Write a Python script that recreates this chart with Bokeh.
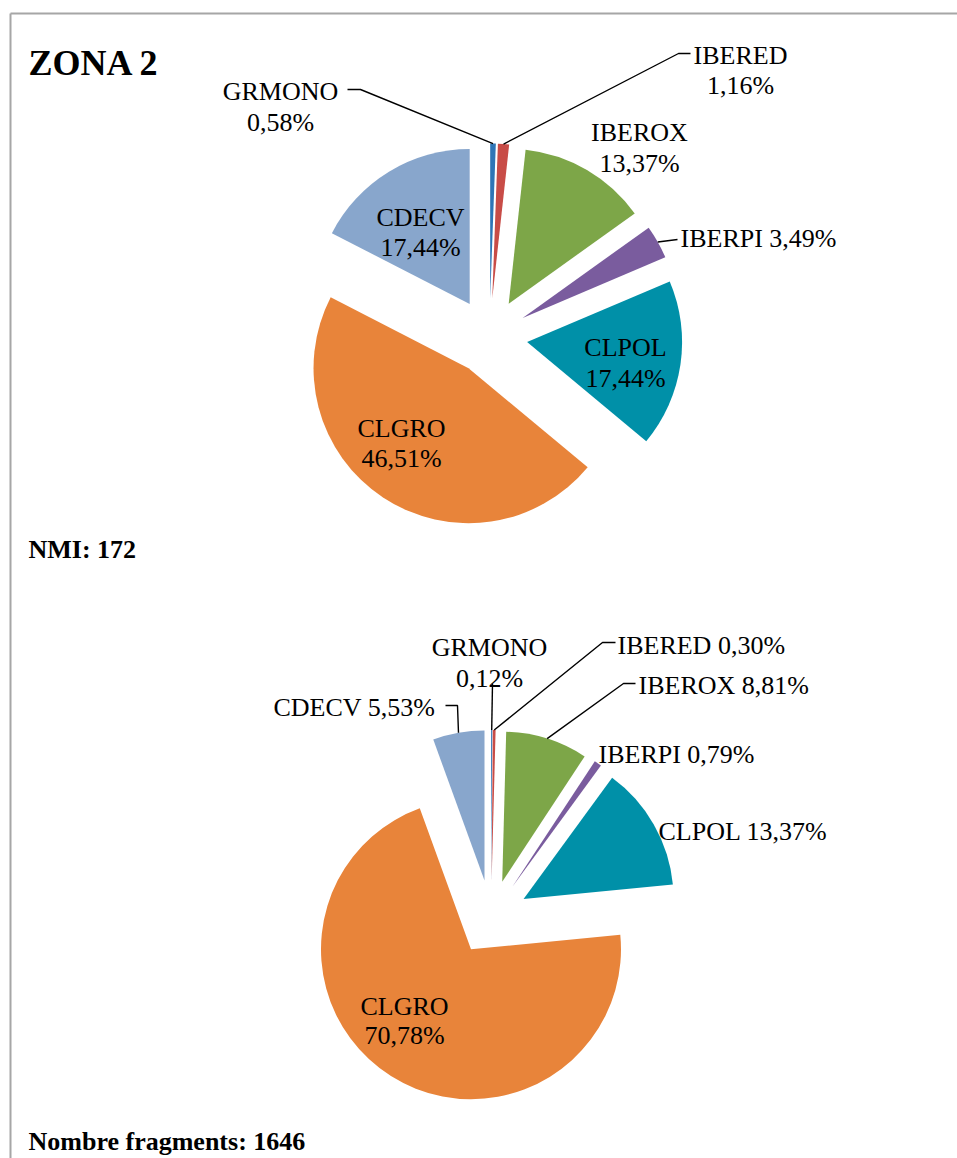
import math
from bokeh.plotting import figure
from bokeh.models import Range1d, ColumnDataSource
from bokeh.core.properties import value
from bokeh.embed import file_html
from bokeh.resources import INLINE

# ---------------- data ----------------
categories = ["GRMONO", "IBERED", "IBEROX", "IBERPI", "CLPOL", "CLGRO", "CDECV"]
nmi_pct = [0.58, 1.16, 13.37, 3.49, 17.44, 46.51, 17.44]
frag_pct = [0.12, 0.30, 8.81, 0.79, 13.37, 70.78, 5.53]
nmi_total = 172
frag_total = 1646
title_text = "ZONA 2"

# ---------------- styles / layout ----------------
colors = ["#2E75B6", "#C84C47", "#7DA648", "#7A5C9E", "#0090A8", "#E8843A", "#88A6CC"]
FONT = value("Liberation Serif")
W, H = 957, 1158
OX, OY = 0, 0

p = figure(width=W, height=H, x_range=Range1d(OX, OX + W), y_range=Range1d(-(OY + H), -OY),
           output_backend="svg", toolbar_location=None, min_border=0,
           x_axis_type=None, y_axis_type=None)
p.grid.visible = False
p.outline_line_color = None
p.background_fill_color = "white"
p.border_fill_color = "white"

def fmt(v):
    return ("%.2f" % v).replace(".", ",") + "%"

def draw_pie(vals, cx, cy, r, d):
    total = float(sum(vals))
    cum = 0.0
    xs, ys, st, en, anchors = [], [], [], [], []
    for v in vals:
        t1 = cum / total * 2 * math.pi
        t2 = (cum + v) / total * 2 * math.pi
        tm = (t1 + t2) / 2
        xs.append(cx + d * math.sin(tm))
        ys.append(cy + d * math.cos(tm))
        st.append(math.pi / 2 - t2)
        en.append(math.pi / 2 - t1)
        anchors.append((cx + (d + r) * math.sin(tm), cy + (d + r) * math.cos(tm)))
        cum += v
    src = ColumnDataSource(dict(x=xs, y=ys, s=st, e=en, c=colors, cat=categories))
    p.wedge(x="x", y="y", radius=r, start_angle="s", end_angle="e", direction="anticlock",
            fill_color="c", line_color=None, source=src)
    return anchors

def label(x, y, txt, align="center", size="26px", style="normal"):
    p.text(x=[x], y=[-y], text=[txt], text_font=FONT, text_font_size=size,
           text_align=align, text_baseline="alphabetic", text_color="black",
           text_font_style=style)

def leader(anchor, pts):
    xs = [anchor[0]] + [q[0] for q in pts]
    ys = [anchor[1]] + [-q[1] for q in pts]
    p.line(xs, ys, line_color="black", line_width=1.4)

# frame lines (top and left)
p.line([10, 957], [-13, -13], line_color="#A6A6A6", line_width=2)
p.line([10, 10], [-13, -1158], line_color="#A6A6A6", line_width=2)

# ---------------- top pie (NMI) ----------------
a = draw_pie(nmi_pct, 489, -336, 155, 38)
idx = {c: i for i, c in enumerate(categories)}

leader(a[idx["GRMONO"]], [(360, 89), (347, 89)])
label(280, 91, categories[0])
label(280, 122, fmt(nmi_pct[0]))

leader(a[idx["IBERED"]], [(678, 53), (690, 53)])
label(740, 55, categories[1])
label(740, 85, fmt(nmi_pct[1]))

label(639, 132, categories[2])
label(639, 163, fmt(nmi_pct[2]))

leader(a[idx["IBERPI"]], [(677, 239)])
label(680, 238, categories[3] + " " + fmt(nmi_pct[3]), align="left")

label(625, 347, categories[4])
label(625, 378, fmt(nmi_pct[4]))

label(401, 428, categories[5])
label(401, 458, fmt(nmi_pct[5]))

label(420, 217, categories[6])
label(420, 247, fmt(nmi_pct[6]))

# ---------------- bottom pie (fragments) ----------------
b = draw_pie(frag_pct, 490.5, -917, 150, 37.5)

leader(b[idx["GRMONO"]], [(492, 683)])
label(489, 647, categories[0])
label(489, 678, fmt(frag_pct[0]))

leader(b[idx["IBERED"]], [(602, 642), (615, 642)])
label(617, 645, categories[1] + " " + fmt(frag_pct[1]), align="left")

leader(b[idx["IBEROX"]], [(623, 683), (635, 683)])
label(638, 685, categories[2] + " " + fmt(frag_pct[2]), align="left")

label(598, 754, categories[3] + " " + fmt(frag_pct[3]), align="left")

label(658, 831, categories[4] + " " + fmt(frag_pct[4]), align="left")

label(404, 1006, categories[5])
label(404, 1035, fmt(frag_pct[5]))

leader(b[idx["CDECV"]], [(457, 705), (445, 705)])
label(273, 707, categories[6] + " " + fmt(frag_pct[6]), align="left")

# ---------------- titles ----------------
label(28, 62, title_text, align="left", size="36px", style="bold")
label(28, 549, "NMI: %d" % nmi_total, align="left", size="26px", style="bold")
label(28, 1141, "Nombre fragments: %d" % frag_total, align="left", size="26px", style="bold")

open("out.html", "w").write(file_html(p, INLINE))
